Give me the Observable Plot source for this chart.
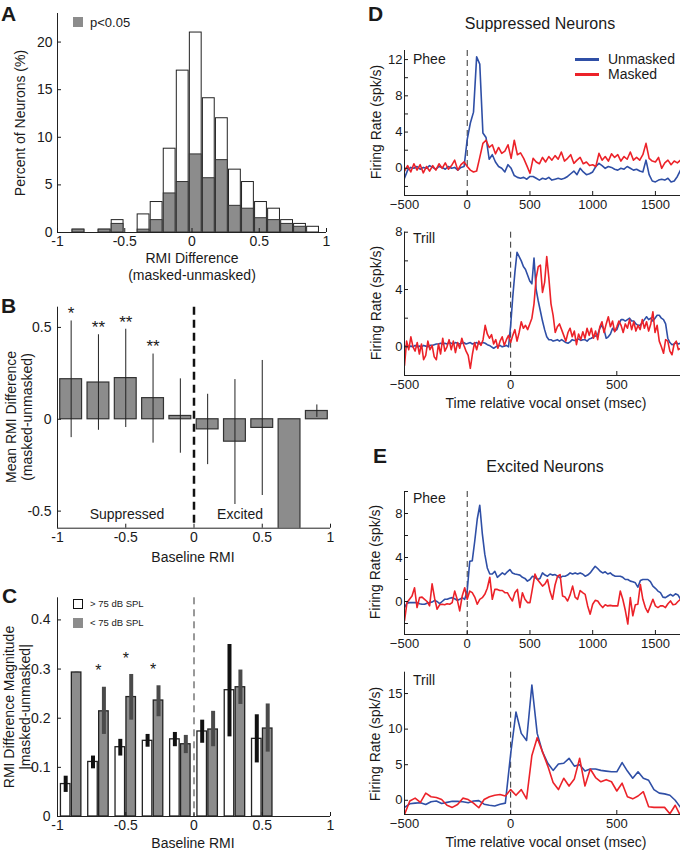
<!DOCTYPE html>
<html><head><meta charset="utf-8">
<script src="https://cdn.jsdelivr.net/npm/d3@7"></script>
<script src="https://cdn.jsdelivr.net/npm/@observablehq/plot@0.6"></script>
<style>
body{margin:0;background:#fff;}
#fig{position:relative;width:680px;height:852px;overflow:hidden;font-family:"Liberation Sans",Arial,Helvetica,sans-serif;color:#1a1a1a;}
</style></head>
<body><div id="fig"></div>
<script>
// ---------- Panel A: histogram of RMI difference ----------
const histCenters = [-0.844,-0.747,-0.650,-0.553,-0.456,-0.360,-0.263,-0.166,-0.069,0.028,0.125,0.222,0.319,0.416,0.513,0.610,0.707,0.803,0.900];
const histAll = [0.3,0,0.3,1.3,0,1.9,3.2,8.8,17,21,14.1,12,6.6,5.3,3.2,2.5,1.3,0.9,0.6];
const histSig = [0.3,0,0.3,0.9,0,0.3,1.3,4.1,5.3,8.2,5.7,7.6,2.8,2.5,1.5,1.3,0.9,0.6,0];
const histBinWidth = 0.0969;

// ---------- Panel B: mean RMI difference by baseline RMI ----------
const bCenters = [-0.9,-0.7,-0.5,-0.3,-0.1,0.1,0.3,0.5,0.7,0.9];
const bMean = [0.218,0.20,0.224,0.115,0.018,-0.055,-0.122,-0.047,-0.75,0.045];
const bErrHi = [0.535,0.46,0.49,0.355,0.22,0.136,0.216,0.32,null,0.078];
const bErrLo = [-0.10,-0.06,-0.045,-0.13,-0.185,-0.247,-0.464,-0.415,null,0.01];
const bStars = ["*","**","**","**","","","","","",""];

// ---------- Panel C: magnitude by intensity ----------
const cCenters = [-0.9,-0.7,-0.5,-0.3,-0.1,0.1,0.3,0.5];
const cHigh   = [0.066,0.111,0.141,0.154,0.157,0.173,0.257,0.158];
const cHighLo = [0.049,0.097,0.123,0.141,0.142,0.149,0.162,0.109];
const cHighHi = [0.082,0.123,0.157,0.167,0.171,0.196,0.350,0.207];
const cLow    = [0.293,0.214,0.243,0.236,0.147,0.177,0.263,0.179];
const cLowLo  = [0.292,0.167,0.196,0.203,0.128,0.142,0.228,0.131];
const cLowHi  = [0.294,0.263,0.289,0.266,0.165,0.214,0.298,0.229];
const cStars  = ["","*","*","*","","","",""];

// ---------- Panel D: suppressed neurons PSTH ----------
const dPheeT = d3.range(-500, 1701, 25);
const dPheeUnmasked = [
 -1.1,-0.2,0.1,0.0,0.2,-0.1,0.1,0.0,0.3,0.1,
 -0.1,0.2,0.1,-0.1,0.2,0.0,0.1,-0.2,0.1,0.2,
 3.2,5.0,6.2,12.3,11.5,3.9,3.4,1.0,1.5,0.7,
 0.2,0.0,-0.4,0.4,0.0,-0.8,-1.0,-1.1,-1.0,-1.2,
 -0.9,-0.9,-1.1,-1.3,-1.1,-1.2,-1.0,-1.3,-1.2,-1.1,
 -1.2,-1.1,-0.9,-0.6,-0.3,-0.7,0.0,-0.4,-0.7,-0.6,
 -0.4,0.2,0.55,0.3,0.0,0.2,0.1,-0.1,-0.2,0.0,
 -0.1,0.2,0.0,-0.2,-0.1,-0.3,-0.4,0.9,-0.7,-1.4,
 -1.5,-1.3,-1.2,-1.3,-1.1,-1.5,-1.4,-0.9,-0.2];
const dPheeMasked = [
 -0.3,0.3,-0.4,0.5,-0.2,0.4,-0.5,0.2,-0.3,0.3,
 -0.2,0.5,0.0,0.6,-0.1,0.3,0.9,-0.2,0.4,0.7,
 0.2,-0.2,-0.4,-0.3,1.2,2.75,3.1,2.3,2.6,1.6,
 2.3,1.65,1.9,2.6,1.1,3.1,1.5,1.7,1.1,0.3,
 -0.55,1.1,0.7,0.5,1.2,0.7,1.3,0.9,1.4,1.0,
 1.8,0.8,1.1,1.5,0.55,0.9,1.2,0.5,0.7,0.3,
 0.4,0.2,1.65,0.9,1.3,0.8,1.6,1.2,1.5,0.8,
 1.3,1.0,1.8,0.9,1.2,0.9,1.5,2.75,1.1,0.8,
 0.7,1.2,0.0,0.6,0.9,0.4,0.8,0.6,0.9];
const dTrillT = d3.range(-500, 801, 10);
const dTrillUnmasked = [
 0.0,0.1,0.0,0.05,0.0,0.1,0.0,0.05,0.0,0.1,
 0.05,0.0,0.1,0.1,0.15,0.2,0.2,0.25,0.2,0.25,
 0.2,0.3,0.25,0.2,0.3,0.25,0.2,0.25,0.3,0.2,
 0.25,0.3,0.2,0.25,0.3,0.2,0.25,0.3,0.25,0.15,
 0.1,0.0,-0.1,0.0,0.05,0.1,0.0,0.05,0.1,0.0,
 1.5,3.5,5.2,6.6,6.3,6.0,5.6,5.4,5.0,4.6,
 4.4,6.2,4.0,3.2,2.5,1.8,1.2,0.7,0.5,0.5,
 0.4,0.45,0.5,0.4,0.5,0.4,0.3,0.25,0.35,0.5,
 0.45,0.5,0.55,0.45,0.5,0.5,0.4,0.55,0.6,0.7,
 0.75,0.85,1.3,1.5,1.2,0.6,0.7,0.9,1.3,1.1,
 1.2,1.6,1.9,1.9,1.8,1.9,2.0,1.8,1.8,1.6,
 1.5,1.5,1.7,1.9,2.1,1.9,2.0,1.8,2.0,2.2,
 2.2,2.0,1.9,1.6,0.6,0.3,0.15,0.2,0.3,0.2,
 0.25];
const dTrillMasked = [
 -1.3,0.4,-0.2,0.7,0.0,-0.3,0.3,-0.5,0.2,-0.9,
 -0.6,0.4,-0.2,0.1,-0.7,-0.9,0.2,-0.5,0.6,-0.3,
 0.0,0.5,-0.2,0.4,-0.4,0.3,-0.1,0.6,0.1,-0.3,
 -0.6,-1.5,-0.5,0.3,-0.2,0.4,0.1,0.5,1.5,0.9,
 0.6,0.85,0.2,0.5,-0.1,0.4,0.7,0.1,0.5,0.8,
 0.3,0.8,1.2,0.4,1.0,1.75,1.3,1.5,1.2,1.6,
 2.0,3.0,4.8,5.6,5.7,3.8,4.5,6.3,4.8,3.0,
 2.2,1.0,1.4,1.6,1.2,0.8,0.4,1.0,1.3,0.7,
 1.1,0.15,0.9,0.5,1.05,0.6,1.3,0.8,1.3,0.6,
 1.1,0.5,1.4,1.75,1.0,1.6,2.1,1.4,1.8,1.05,
 1.4,1.8,1.5,1.0,1.6,1.3,1.9,1.2,1.75,1.1,
 1.5,1.2,1.9,1.3,1.75,1.1,1.6,2.45,1.0,1.5,
 0.4,0.0,-0.45,0.5,0.4,-0.3,-0.55,0.2,0.4,-0.2,
 -0.1];

// ---------- Panel E: excited neurons PSTH ----------
const ePheeT = d3.range(-500, 1701, 20);
const ePheeUnmasked = [
 -0.55,-0.15,-0.1,-0.1,-0.1,-0.1,-0.2,-0.25,-0.25,-0.15,
 -0.1,-0.05,0.1,0.0,-0.2,0.0,0.2,0.2,0.3,0.35,
 0.25,0.1,0.2,0.35,0.2,1.0,3.65,3.7,5.5,7.5,
 8.75,6.2,4.3,3.05,2.5,2.5,2.75,2.2,2.4,2.6,
 2.45,2.7,2.9,2.6,2.5,2.45,2.4,2.2,2.1,1.85,
 2.0,2.3,2.2,2.0,2.1,2.6,2.4,2.3,2.5,2.4,
 2.45,2.3,2.15,2.3,2.3,2.4,2.6,2.5,2.6,2.5,
 2.6,2.5,2.3,2.4,2.6,2.9,3.2,3.0,2.75,2.6,
 2.7,2.5,2.6,2.4,2.3,2.3,2.3,2.2,2.0,2.0,
 1.85,1.8,1.7,1.3,1.9,2.0,2.0,2.0,1.8,1.4,
 1.2,0.95,0.8,0.4,0.35,0.5,0.65,0.5,0.7,0.6,0.2];
const ePheeMasked = [
 -1.75,-0.1,0.2,0.5,1.25,-0.55,0.35,0.4,0.2,0.0,
 -0.4,1.6,0.3,-0.7,-0.3,-0.25,-0.3,-0.2,-0.25,-0.1,
 0.95,0.2,-0.85,0.5,1.25,0.2,0.95,0.8,0.4,-0.25,
 0.2,0.35,0.65,1.2,2.2,0.2,1.1,1.1,1.0,1.0,
 0.8,0.8,0.4,0.05,0.8,1.1,-0.55,0.8,0.2,-0.1,
 -0.1,1.2,2.5,2.0,1.7,1.4,1.6,2.0,0.9,0.2,
 1.5,2.3,2.45,0.5,0.4,0.05,0.6,1.4,0.4,0.2,
 1.0,0.8,0.65,-0.4,-1.15,-0.25,0.1,0.05,-0.3,-0.55,
 -0.3,-0.4,-0.35,-0.4,-0.4,-0.4,0.95,0.2,-0.8,-2.05,
 0.35,-1.3,-0.3,-0.25,1.55,0.2,-0.55,-1.0,-0.4,0.2,
 -0.4,-0.55,-0.4,-0.4,-0.55,-0.2,0.05,-0.3,-0.25,0.0,0.2];
const eTrillT = d3.range(-500, 801, 25);
const eTrillUnmasked = [
 -1.0,-0.5,-0.4,-0.35,-0.6,-0.2,-0.1,-0.45,-0.3,-0.15,
 -0.15,-0.2,-0.35,-0.1,-0.05,-0.55,-0.7,-0.8,-0.55,-0.4,
 6.5,12.4,9.4,8.4,16.2,9.4,6.8,5.2,4.2,5.1,
 5.2,5.9,4.8,5.0,4.1,4.4,4.4,4.2,4.1,4.0,
 4.0,5.3,4.1,3.1,4.0,3.1,2.8,1.5,1.0,0.9,
 0.7,0.0,-1.0];
const eTrillMasked = [
 -2.0,-0.1,0.3,-0.3,1.0,0.5,0.4,0.1,-0.7,-1.0,
 -0.6,0.3,0.1,-0.4,-1.05,0.1,0.5,0.7,0.8,0.6,
 1.5,0.7,1.5,0.2,6.3,8.8,6.8,4.8,2.5,1.5,
 3.1,2.0,3.0,5.9,2.0,4.4,3.2,2.6,2.9,2.6,
 1.3,2.4,0.5,0.2,0.6,1.2,-0.9,-1.0,-1.0,-1.0,
 -1.9,-0.7,-2.2];

const abTicks = [-1,-0.5,0,0.5,1];
const dPheeYTicks = [-2,0,2,4,6,8,10,12];
const dTrillYTicks = [0,2,4,6,8];
const ePheeYTicks = [-2,0,2,4,6,8,10];
const eTrillYTicks = [0,5,10,15];

// ---------- helpers ----------
const BLUE = "#2f4fa6", RED = "#ec2229", GRAY = "#8c8c8c";
const FONT = '"Liberation Sans", Arial, Helvetica, sans-serif';
const fig = document.getElementById("fig");
function place(el, left, top){ el.style.position="absolute"; el.style.left=left+"px"; el.style.top=top+"px"; fig.appendChild(el); }
function label(txt, x, y, o={}){
  const d=document.createElement("div"); d.textContent=txt;
  const size=o.size||14, w=o.weight||"normal", rot=o.rotate||0, tx=(o.anchor==="start")?"0":"-50%";
  d.style.cssText=`position:absolute;left:${x}px;top:${y}px;font-size:${size}px;font-weight:${w};line-height:1;white-space:nowrap;color:#1a1a1a;transform:translate(${tx},-50%) rotate(${rot}deg);`;
  fig.appendChild(d);
}
function box(x,y,w,h,css){ const d=document.createElement("div"); d.style.cssText=`position:absolute;left:${x}px;top:${y}px;width:${w}px;height:${h}px;box-sizing:border-box;${css}`; fig.appendChild(d); }
const fmtAB = d => String(d);
const fmtT = d => d < 0 ? "\u2212" + (-d) : String(d);
const style = {fontFamily: FONT, fontSize: "14px", color: "#1a1a1a", background: "transparent", overflow: "visible"};
const styleDE = {...style, fontSize: "13px"};

// ---------- Panel A ----------
const histData = histCenters.map((c,i)=>({c, all: histAll[i], sig: histSig[i]}));
const plotA = Plot.plot({
  width: 340, height: 260, marginLeft: 57, marginRight: 14, marginTop: 13, marginBottom: 28,
  x: {domain: [-1,1]}, y: {domain: [0,23]}, style,
  marks: [
    Plot.rect(histData.filter(d=>d.all>0), {x1: d=>d.c-histBinWidth/2, x2: d=>d.c+histBinWidth/2, y1: 0, y2: "all", fill: "white", stroke: "#222", strokeWidth: 1, insetLeft: 0.6, insetRight: 0.6}),
    Plot.rect(histData.filter(d=>d.sig>0), {x1: d=>d.c-histBinWidth/2, x2: d=>d.c+histBinWidth/2, y1: 0, y2: "sig", fill: GRAY, stroke: "#333", strokeWidth: 1, insetLeft: 0.6, insetRight: 0.6}),
    Plot.ruleY([0], {stroke: "#222"}),
    Plot.ruleX([-1], {stroke: "#222"}),
    Plot.axisX({ticks: abTicks, tickFormat: fmtAB, tickSize: -4, tickPadding: 8, label: null}),
    Plot.axisY({ticks: [0,5,10,15,20], tickSize: -4, tickPadding: 9, label: null})
  ]
});
place(plotA, 0, 0);

// ---------- Panel B ----------
const bData = bCenters.map((c,i)=>({c, mean: bMean[i], lo: bErrLo[i], hi: bErrHi[i], star: bStars[i]}));
const plotB = Plot.plot({
  width: 340, height: 260, marginLeft: 57, marginRight: 10, marginTop: 16.7, marginBottom: 22.3,
  x: {domain: [-1,1]}, y: {domain: [-0.593, 0.61]}, style,
  marks: [
    Plot.rect(bData, {x1: d=>d.c-0.08, x2: d=>d.c+0.08, y1: 0, y2: "mean", fill: GRAY, stroke: "#333", strokeWidth: 1.2, clip: true}),
    Plot.ruleX(bData.filter(d=>d.hi!=null), {x: "c", y1: "lo", y2: "hi", stroke: "#222", strokeWidth: 1}),
    Plot.ruleX([0], {stroke: "#111", strokeWidth: 2.5, strokeDasharray: "8,5"}),
    Plot.text(bData.filter(d=>d.star), {x: "c", y: "hi", text: "star", dy: -7, fontSize: 17}),
    Plot.ruleY([-0.593], {stroke: "#222"}),
    Plot.ruleX([-1], {stroke: "#222"}),
    Plot.axisX({ticks: abTicks, tickFormat: fmtAB, tickSize: -4, tickPadding: 8, label: null}),
    Plot.axisY({ticks: [-0.5,0,0.5], tickFormat: fmtAB, tickSize: -4, tickPadding: 10, label: null})
  ]
});
place(plotB, 0, 290);

// ---------- Panel C ----------
const cData = cCenters.map((c,i)=>({c, high: cHigh[i], highLo: cHighLo[i], highHi: cHighHi[i], low: cLow[i], lowLo: cLowLo[i], lowHi: cLowHi[i], star: cStars[i]}));
const plotC = Plot.plot({
  width: 340, height: 260, marginLeft: 57, marginRight: 10, marginTop: 17.3, marginBottom: 24,
  x: {domain: [-1,1]}, y: {domain: [0, 0.445]}, style,
  marks: [
    Plot.rect(cData, {x1: d=>d.c-0.08, x2: "c", y1: 0, y2: "high", fill: "white", stroke: "#222", strokeWidth: 1.3, insetLeft: 0.7, insetRight: 0.7}),
    Plot.rect(cData, {x1: "c", x2: d=>d.c+0.08, y1: 0, y2: "low", fill: GRAY, stroke: "#222", strokeWidth: 1.3, insetLeft: 0.7, insetRight: 0.7}),
    Plot.ruleX(cData, {x: d=>d.c-0.04, y1: "highLo", y2: "highHi", stroke: "#111", strokeWidth: 4}),
    Plot.ruleX(cData, {x: d=>d.c+0.04, y1: "lowLo", y2: "lowHi", stroke: "#4a4a4a", strokeWidth: 4}),
    Plot.ruleX([0], {stroke: "#333", strokeWidth: 1, strokeDasharray: "7,5"}),
    Plot.text(cData.filter(d=>d.star), {x: "c", y: "lowHi", text: "star", dy: -16, fontSize: 16}),
    Plot.ruleY([0], {stroke: "#222"}),
    Plot.ruleX([-1], {stroke: "#222"}),
    Plot.axisX({ticks: abTicks, tickFormat: fmtAB, tickSize: -4, tickPadding: 8, label: null}),
    Plot.axisY({ticks: [0,0.1,0.2,0.3,0.4], tickFormat: fmtAB, tickSize: -4, tickPadding: 11, label: null})
  ]
});
place(plotC, 0, 580);

// ---------- PSTH panels ----------
function psth(t, unm, msk, o){
  const U = t.map((x,i)=>({t: x, v: unm[i]}));
  const M = t.map((x,i)=>({t: x, v: msk[i]}));
  return Plot.plot({
    width: 340, height: o.height, marginLeft: 64, marginRight: 0, marginTop: o.mt, marginBottom: o.mb,
    x: {domain: o.xDomain}, y: {domain: o.yDomain}, style: styleDE,
    marks: [
      Plot.ruleX([0], {stroke: "#333", strokeWidth: 1, strokeDasharray: "6,4"}),
      Plot.line(U, {x: "t", y: "v", stroke: BLUE, strokeWidth: 1.6, clip: true}),
      Plot.line(M, {x: "t", y: "v", stroke: RED, strokeWidth: 1.6, clip: true}),
      Plot.ruleY([o.yDomain[0]], {stroke: "#222"}),
      Plot.ruleX([o.xDomain[0]], {stroke: "#222"}),
      Plot.axisX({ticks: o.xTicks, tickFormat: fmtT, tickSize: -4, tickPadding: 8.5, label: null}),
      Plot.axisY({ticks: o.yTicks, tickFormat: o.yFmt, tickSize: -4, tickPadding: 6, label: null})
    ]
  });
}
const every4 = d => d % 4 === 0 ? String(d) : "";
place(psth(dPheeT, dPheeUnmasked, dPheeMasked, {height: 175, mt: 10, mb: 20, xDomain: [-500,1700], yDomain: [-3,13], xTicks: [-500,0,500,1000,1500], yTicks: dPheeYTicks, yFmt: every4}), 340, 40);
place(psth(dTrillT, dTrillUnmasked, dTrillMasked, {height: 190, mt: 16.7, mb: 30, xDomain: [-500,800], yDomain: [-2,8], xTicks: [-500,0,500], yTicks: dTrillYTicks, yFmt: every4}), 340, 215);
place(psth(ePheeT, ePheeUnmasked, ePheeMasked, {height: 175, mt: 11, mb: 21, xDomain: [-500,1700], yDomain: [-3,10], xTicks: [-500,0,500,1000,1500], yTicks: ePheeYTicks, yFmt: every4}), 340, 480);
place(psth(eTrillT, eTrillUnmasked, eTrillMasked, {height: 180, mt: 16.7, mb: 21, xDomain: [-500,800], yDomain: [-2,18], xTicks: [-500,0,500], yTicks: eTrillYTicks, yFmt: d=>String(d)}), 340, 655);

// ---------- text & legends ----------
label("A", 1, 13, {size: 21, weight: "bold", anchor: "start"});
label("B", 1, 305, {size: 21, weight: "bold", anchor: "start"});
label("C", 2, 595, {size: 21, weight: "bold", anchor: "start"});
label("D", 368, 13, {size: 21, weight: "bold", anchor: "start"});
label("E", 373, 455, {size: 21, weight: "bold", anchor: "start"});

label("Percent of Neurons (%)", 20, 123, {rotate: -90});
label("RMI Difference", 192, 258);
label("(masked-unmasked)", 192, 275);
box(73, 17, 10, 10, `background:${GRAY};`);
label("p<0.05", 90, 22, {anchor: "start", size: 13});

label("Mean RMI Difference", 11, 417, {rotate: -90});
label("(masked-unmasked)", 27, 417, {rotate: -90});
label("Suppressed", 127, 514);
label("Excited", 240, 514);
label("Baseline RMI", 193, 557);

label("RMI Difference Magnitude", 9, 707, {rotate: -90});
label("|masked-unmasked|", 25, 707, {rotate: -90});
box(73, 599, 10, 10, "background:#fff;border:1.6px solid #111;");
label("> 75 dB SPL", 90, 604, {anchor: "start", size: 9.5});
box(73, 618, 10, 10, `background:${GRAY};`);
label("< 75 dB SPL", 90, 623, {anchor: "start", size: 9.5});
label("Baseline RMI", 193, 843);

label("Suppressed Neurons", 540, 24, {size: 16});
box(575, 58, 24, 3, `background:${BLUE};`);
label("Unmasked", 608, 59, {anchor: "start"});
box(575, 73, 24, 3, `background:${RED};`);
label("Masked", 608, 74, {anchor: "start"});
label("Phee", 413, 59, {anchor: "start"});
label("Trill", 413, 238, {anchor: "start"});
label("Firing Rate (spk/s)", 376, 122, {rotate: -90});
label("Firing Rate (spk/s)", 376, 303, {rotate: -90});
label("Time relative vocal onset (msec)", 546, 403);

label("Excited Neurons", 545, 467, {size: 16});
label("Phee", 413, 498, {anchor: "start"});
label("Trill", 413, 680, {anchor: "start"});
label("Firing Rate (spk/s)", 375, 562, {rotate: -90});
label("Firing Rate (spk/s)", 375, 744, {rotate: -90});
label("Time relative vocal onset (msec)", 546, 842);
</script>
</body></html>
